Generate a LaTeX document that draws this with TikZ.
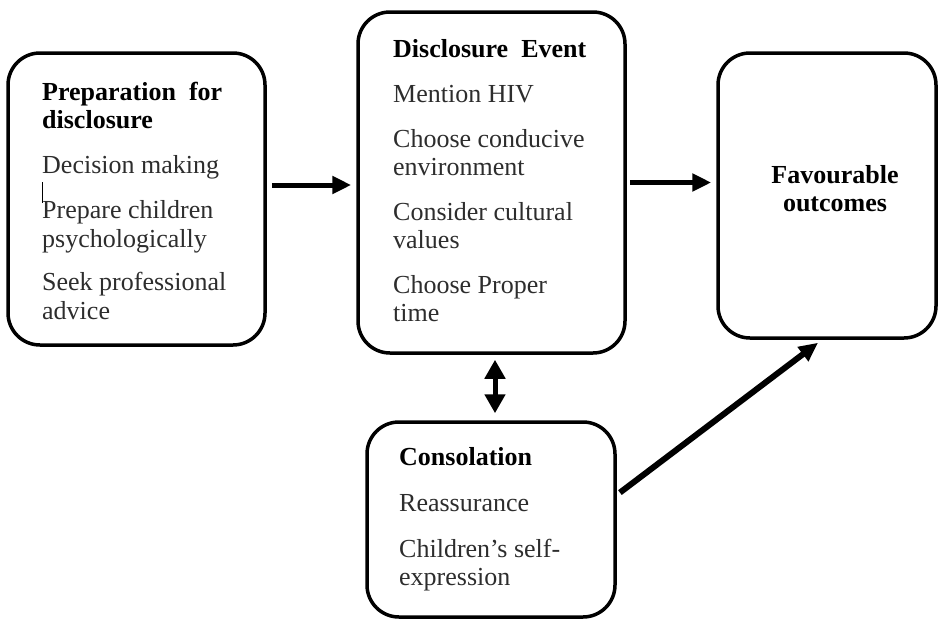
\documentclass[tikz,border=0pt]{standalone}
\usepackage{fontspec}
\setmainfont{Liberation Serif}
\usetikzlibrary{arrows.meta,calc}
\definecolor{bodytxt}{RGB}{45,45,45}
\begin{document}
\begin{tikzpicture}[x=1pt,y=-1pt,
  box/.style={draw=black, line width=3.5pt, rounded corners=32pt, inner sep=0pt},
  txt/.style={inner sep=0pt, align=left, anchor=north west, text=bodytxt,
    font=\fontsize{26}{28.5}\selectfont},
  hd/.style={},
  arr/.style={line width=5pt, -{Triangle[length=19pt,width=17pt]}},
  darr/.style={line width=5pt, {Triangle[length=19pt,width=20pt]}-{Triangle[length=19pt,width=20pt]}}]
\useasboundingbox (0,0) rectangle (940,621);
% boxes
\node[box, minimum width=257pt, minimum height=292pt] (prep) at (136.5,199) {};
\node[box, minimum width=267pt, minimum height=341pt] (event) at (491.5,182.5) {};
\node[box, minimum width=218pt, minimum height=285pt] (outcome) at (827,195.5) {};
\node[box, minimum width=248pt, minimum height=195pt] (consol) at (491,519.5) {};
% texts (strut on first line: top = baseline - 19.95)
\node[txt] (preptxt) at (42,80.05) {\strut\textcolor{black}{\textbf{Preparation\ \ for}}\\\textcolor{black}{\textbf{disclosure}}\\[16pt]
  Decision making\\[17pt]Prepare children\\psychologically\\[15pt]Seek professional\\advice};
\node[txt] (eventtxt) at (393,37.05) {\strut\textcolor{black}{\textbf{Disclosure\ \ Event}}\\[17pt]Mention HIV\\[16pt]
  Choose conducive\\environment\\[16pt]Consider cultural\\values\\[16pt]Choose Proper\\time};
\node[txt, align=center, anchor=north, text=black] (outtxt) at (835,163.05) {\strut\textbf{Favourable}\\\textbf{outcomes}};
\node[txt] (consoltxt) at (399,445.05) {\strut\textcolor{black}{\textbf{Consolation}}\\[18pt]Reassurance\\[17pt]Children’s self-\\expression};
% cursor mark
\draw[line width=0.8pt] (42,182) -- (42,203);
% connectors
\draw[arr, shorten <=5pt, shorten >=5pt] ([yshift=14pt]prep.east) -- ([yshift=14pt]prep.east -| event.west);
\draw[arr, shorten <=3pt, shorten >=5pt] (event.east) -- (event.east -| outcome.west);
\draw[darr, shorten <=5pt, shorten >=7pt] ([xshift=3.5pt]event.south) -- ([xshift=3.5pt]event.south |- consol.north);
\draw[arr, line width=6pt, shorten <=4pt, shorten >=5pt] ([yshift=24.5pt]consol.east) -- ([xshift=-5pt]outcome.south);
\end{tikzpicture}
\end{document}
